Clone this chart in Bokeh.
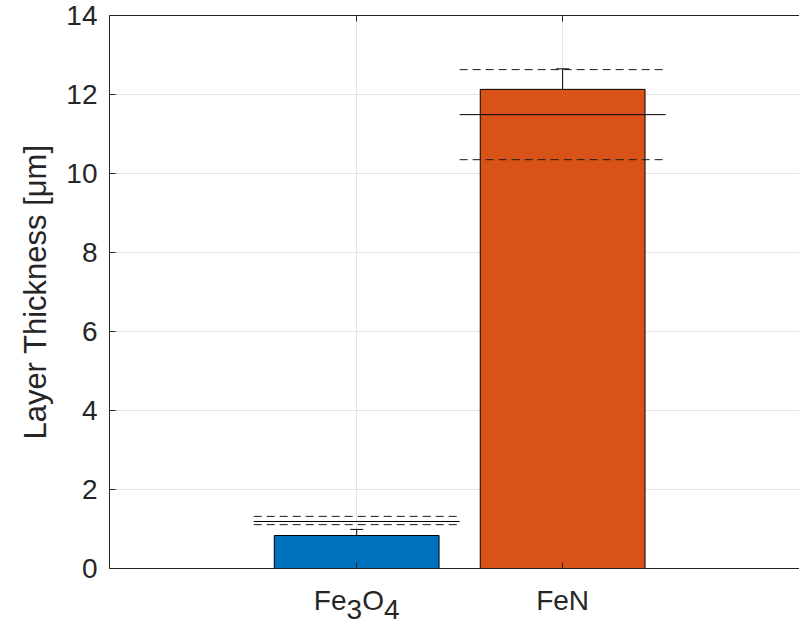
from bokeh.plotting import figure
from bokeh.layouts import column
from bokeh.models import (ColumnDataSource, Whisker, TeeHead, LinearAxis,
                          FixedTicker, Range1d)
from bokeh.core.properties import value
from bokeh.embed import file_html
from bokeh.resources import INLINE

# ---- data ----
categories = ["Fe3O4", "FeN"]
positions = [1, 2]
thickness = [0.835, 12.13]
thickness_err = [0.155, 0.52]
ref_mean = [1.19, 11.49]
ref_upper = [1.32, 12.63]
ref_lower = [1.11, 10.35]
bar_colors = ["#0072BD", "#D95319"]
y_ticks = [0, 2, 4, 6, 8, 10, 12, 14]

FONT = "Liberation Sans"
TXT = "#262626"
AX = "#262626"

xr = Range1d(-0.2, 3.15)

p = figure(width=799, height=584, output_backend="svg", toolbar_location=None,
           title=None, x_range=xr, y_range=Range1d(0, 14),
           min_border_left=109, min_border_right=0, min_border_top=15,
           min_border_bottom=16)
p.outline_line_color = None
p.background_fill_color = "white"

src = ColumnDataSource(dict(
    x=positions, top=thickness, color=bar_colors,
    lo=[t - e for t, e in zip(thickness, thickness_err)],
    hi=[t + e for t, e in zip(thickness, thickness_err)],
))
p.vbar(x="x", top="top", bottom=0, width=0.8, fill_color="color",
       line_color="black", line_width=1, source=src)

w = Whisker(base="x", lower="lo", upper="hi", source=src, line_color="black",
            line_width=1,
            upper_head=TeeHead(size=13, line_color="black", line_width=1),
            lower_head=TeeHead(size=13, line_color="black", line_width=1))
p.add_layout(w)

x0 = [x - 0.5 for x in positions]
x1 = [x + 0.5 for x in positions]
p.segment(x0=x0, x1=x1, y0=ref_mean, y1=ref_mean, line_color="black", line_width=1)
p.segment(x0=x0, x1=x1, y0=ref_upper, y1=ref_upper, line_color="#1a1a1a",
          line_width=1, line_dash="8 5")
p.segment(x0=x0, x1=x1, y0=ref_lower, y1=ref_lower, line_color="#1a1a1a",
          line_width=1, line_dash="8 5")

# grid
p.xgrid.ticker = FixedTicker(ticks=positions)
p.ygrid.ticker = FixedTicker(ticks=y_ticks)
for g in (p.xgrid, p.ygrid):
    g.grid_line_color = "#e3e3e3"
    g.grid_line_width = 1

# y axis
ya = p.yaxis[0]
ya.ticker = FixedTicker(ticks=y_ticks)
ya.axis_label = "Layer Thickness [μm]"
ya.axis_label_text_font = FONT
ya.axis_label_text_font_style = "normal"
ya.axis_label_text_font_size = "31px"
ya.axis_label_text_color = TXT
ya.axis_label_standoff = 10
ya.major_label_text_font = FONT
ya.major_label_text_font_size = "28px"
ya.major_label_text_color = TXT
ya.major_label_standoff = 12
ya.major_tick_in = 6
ya.major_tick_out = 0
ya.minor_tick_line_color = None
ya.axis_line_color = AX
ya.major_tick_line_color = AX

# x axis (line and inward ticks only; labels drawn in the strip below)
xa = p.xaxis[0]
xa.ticker = FixedTicker(ticks=[], minor_ticks=positions)
xa.major_tick_in = 0
xa.major_tick_out = 0
xa.minor_tick_in = 6
xa.minor_tick_out = 0
xa.minor_tick_line_color = AX
xa.axis_line_color = AX

# top border axis (ticks only, no labels)
ta = LinearAxis(ticker=FixedTicker(ticks=[], minor_ticks=positions),
                major_label_standoff=0, major_tick_in=0, major_tick_out=0,
                minor_tick_in=6, minor_tick_out=0, minor_tick_line_color=AX,
                axis_line_color=AX, major_tick_line_color=AX)
p.add_layout(ta, "above")

# ---- category label strip (shares the x range) ----
q = figure(width=799, height=41, output_backend="svg", toolbar_location=None,
           title=None, x_range=xr, y_range=Range1d(0, 1),
           x_axis_location=None, y_axis_location=None,
           min_border_left=109, min_border_right=0, min_border_top=0,
           min_border_bottom=0)
q.outline_line_color = None
q.grid.visible = False

# FeN centred on its category
q.text(x=[positions[1]], y=[1], text=[categories[1]], text_font=value(FONT),
       text_font_size="28px", text_color=TXT, text_align="center",
       text_baseline="alphabetic", y_offset=16)

# Fe3O4 with subscripts, composed around its category position
parts = ["Fe", "3", "O", "4"]
dx = [-42.8, -10.1, 5.5, 27.3]
dy = [16, 25, 16, 25]
for t, ox, oy in zip(parts, dx, dy):
    q.text(x=[positions[0]], y=[1], text=[t], text_font=value(FONT),
           text_font_size="28px", text_color=TXT, text_align="left",
           text_baseline="alphabetic", x_offset=ox, y_offset=oy)

layout = column(p, q, spacing=0)
open("out.html", "w").write(file_html(layout, INLINE))
